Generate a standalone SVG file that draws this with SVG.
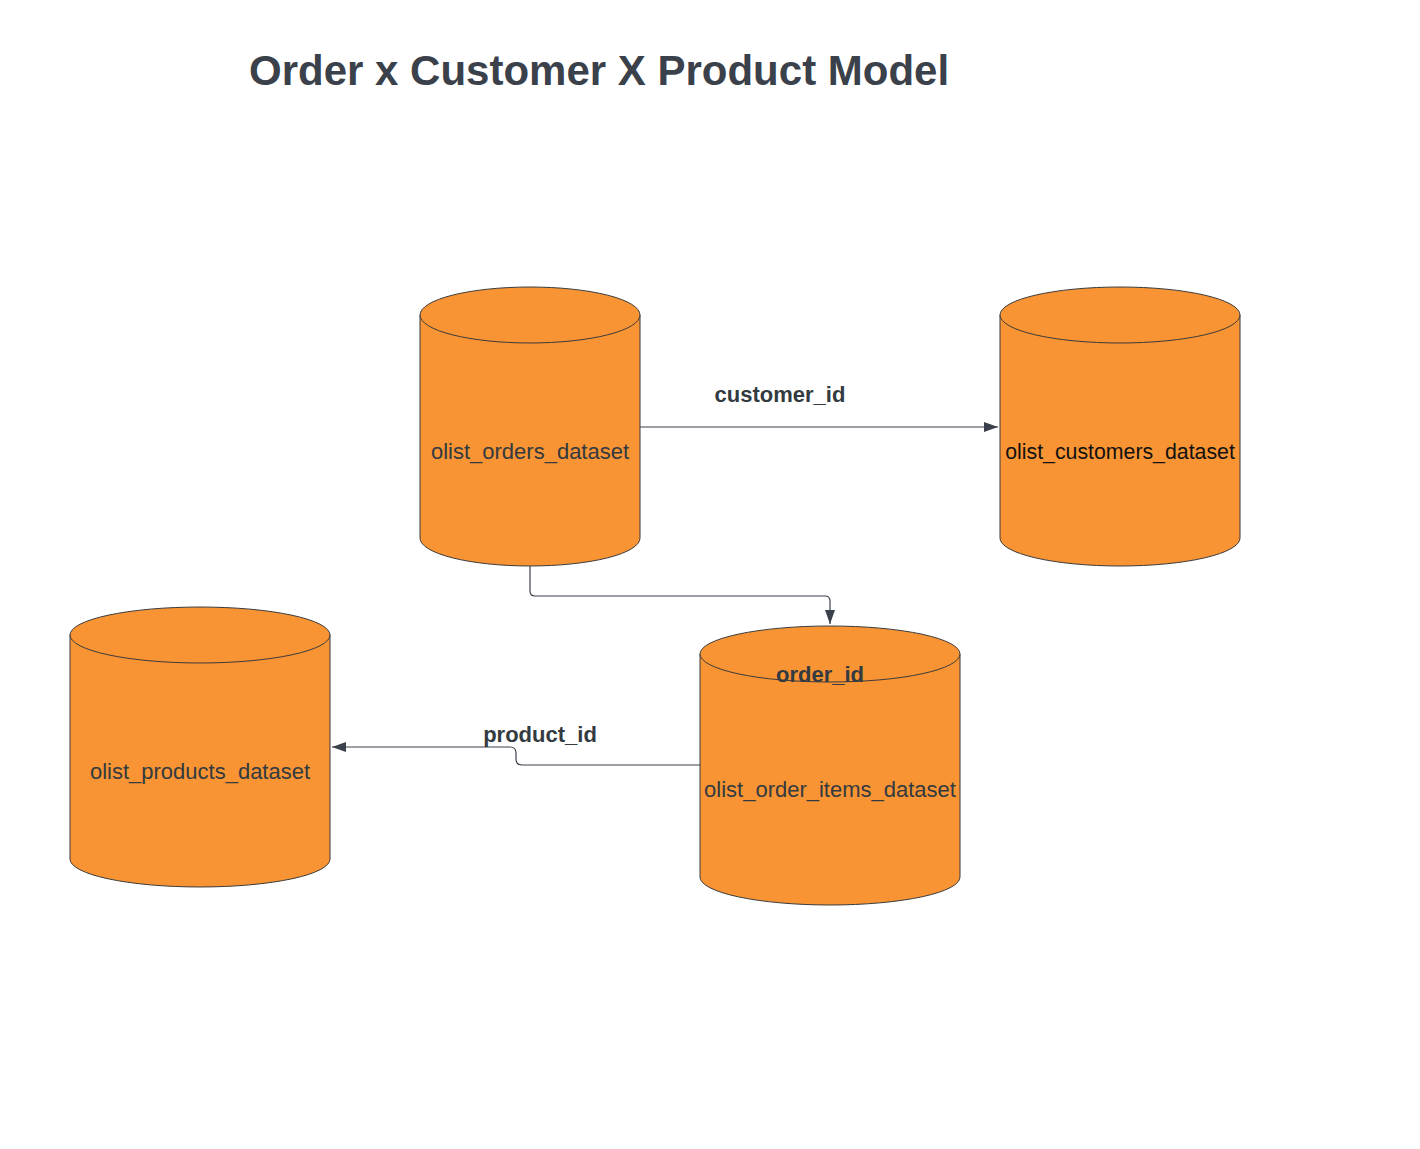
<svg xmlns="http://www.w3.org/2000/svg" width="1420" height="1149" viewBox="0 0 1420 1149">
<style>
.cyl{fill:#f89433;stroke:#3b3b3b;stroke-width:1}
.lbl{font-family:"Liberation Sans",Arial,sans-serif;font-size:22px;fill:#333a40;text-anchor:middle}
.edge{font-family:"Liberation Sans",Arial,sans-serif;font-size:22px;font-weight:bold;fill:#333a40;text-anchor:middle}
.conn{fill:none;stroke:#3a414a;stroke-width:1.2}
</style>
<defs>
<marker id="arr" viewBox="0 0 14 10" refX="14" refY="5" markerWidth="14" markerHeight="10" markerUnits="userSpaceOnUse" orient="auto">
<path d="M0,0 L14,5 L0,10 Z" fill="#3a414a"/>
</marker>
</defs>
<rect width="1420" height="1149" fill="#ffffff"/>
<text x="249" y="85" font-family="Liberation Sans,Arial,sans-serif" font-size="42" font-weight="bold" fill="#3a414a">Order x Customer X Product Model</text>

<g id="orders">
<path class="cyl" d="M420,315 A110,28 0 0 1 640,315 L640,538 A110,28 0 0 1 420,538 Z"/>
<path class="cyl" d="M420,315 A110,28 0 0 0 640,315" fill="none"/>
<text class="lbl" x="530" y="459">olist_orders_dataset</text>
</g>

<g id="customers">
<path class="cyl" d="M1000,315 A120,28 0 0 1 1240,315 L1240,538 A120,28 0 0 1 1000,538 Z"/>
<path class="cyl" d="M1000,315 A120,28 0 0 0 1240,315" fill="none"/>
<text x="1120" y="459" font-family="Liberation Sans,Arial,sans-serif" font-size="21.3" fill="#111111" text-anchor="middle">olist_customers_dataset</text>
</g>

<g id="products">
<path class="cyl" d="M70,635 A130,28 0 0 1 330,635 L330,859 A130,28 0 0 1 70,859 Z"/>
<path class="cyl" d="M70,635 A130,28 0 0 0 330,635" fill="none"/>
<text class="lbl" x="200" y="779">olist_products_dataset</text>
</g>

<g id="order_items">
<path class="cyl" d="M700,654 A130,28 0 0 1 960,654 L960,877 A130,28 0 0 1 700,877 Z"/>
<path class="cyl" d="M700,654 A130,28 0 0 0 960,654" fill="none"/>
<text class="lbl" x="830" y="797">olist_order_items_dataset</text>
</g>

<g id="connectors">
<path class="conn" d="M640,427 L998,427" marker-end="url(#arr)"/>
<text class="edge" x="780" y="402">customer_id</text>
<path class="conn" d="M530,566 L530,591 Q530,596 535,596 L825,596 Q830,596 830,601 L830,624" marker-end="url(#arr)"/>
<text class="edge" x="820" y="682">order_id</text>
<path class="conn" d="M700,765 L522,765 Q516,765 516,759 L516,753 Q516,747 510,747 L332,747" marker-end="url(#arr)"/>
<text class="edge" x="540" y="742">product_id</text>
</g>
</svg>
